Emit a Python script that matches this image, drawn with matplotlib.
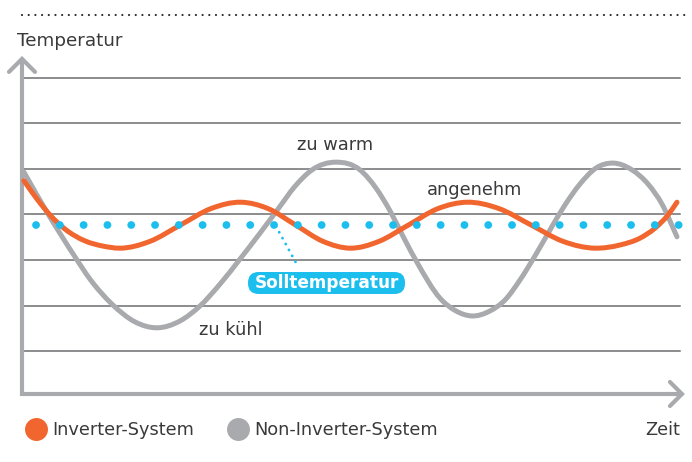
import numpy as np
import matplotlib
matplotlib.use("Agg")
import matplotlib.pyplot as plt
from matplotlib.lines import Line2D
from matplotlib.patches import PathPatch, FancyBboxPatch
from matplotlib.path import Path

# --- data (time in % of the shown span, temperature in grid steps) ---
time_non_inverter = [0.30, 3.80, 8.05, 10.33, 13.68, 17.17, 20.52, 24.01, 27.05, 30.09,
                     33.13, 36.17, 38.91, 41.49, 44.07, 47.72, 51.37, 53.80, 55.93, 58.05,
                     60.18, 63.53, 65.96, 68.39, 71.12, 73.40, 75.68, 77.96, 80.24, 82.52,
                     84.80, 87.23, 89.82, 92.71, 95.14, 97.26, 99.54]
temp_non_inverter = [4.93, 4.05, 3.07, 2.58, 2.03, 1.64, 1.51, 1.66, 1.99, 2.47,
                     3.02, 3.59, 4.12, 4.62, 4.98, 5.15, 4.98, 4.58, 4.08, 3.48,
                     2.91, 2.16, 1.88, 1.77, 1.88, 2.12, 2.56, 3.09, 3.66, 4.21,
                     4.67, 5.02, 5.13, 4.98, 4.67, 4.23, 3.51]

time_inverter = [0.30, 2.28, 4.26, 6.53, 9.57, 12.16, 14.89, 19.45, 24.09, 28.72,
                 33.28, 37.39, 41.57, 45.74, 49.85, 54.26, 58.74, 63.22, 67.63, 72.49,
                 77.36, 82.22, 87.08, 90.88, 93.92, 96.20, 98.18, 99.54]
temp_inverter = [4.74, 4.34, 3.99, 3.68, 3.42, 3.31, 3.26, 3.41, 3.77, 4.13,
                 4.27, 4.13, 3.77, 3.41, 3.26, 3.41, 3.77, 4.13, 4.27, 4.13,
                 3.77, 3.41, 3.26, 3.33, 3.48, 3.70, 3.99, 4.27]

setpoint = 3.77
setpoint_span = [2.13, 100.0]
grid_levels = [1, 2, 3, 4, 5, 6, 7]

labels_series = ["Inverter-System", "Non-Inverter-System"]
annotations = [("zu warm", 47.6, 5.53), ("angenehm", 68.8, 4.54), ("zu kühl", 31.8, 1.46)]

ORANGE = "#F1652E"
GRAY = "#A9AAAD"
CYAN = "#1CBEEE"
GRID = "#6E6E70"
TEXT = "#3A3A3C"
FS = 12.8

# pixel scale of the data units (figure is 692x462 at dpi 100)
PX_T = 6.58
PX_Y = 45.5


def smooth_path(xs, ys):
    """Smooth cubic (Hermite) curve through the points, as a Bezier path."""
    x = np.asarray(xs, float)
    y = np.asarray(ys, float)
    h = np.diff(x)
    d = np.diff(y) / h
    m = np.empty_like(y)
    m[0], m[-1] = d[0], d[-1]
    m[1:-1] = (d[:-1] * h[1:] + d[1:] * h[:-1]) / (h[:-1] + h[1:])
    verts = [(x[0], y[0])]
    codes = [Path.MOVETO]
    for i in range(len(h)):
        verts += [(x[i] + h[i] / 3, y[i] + m[i] * h[i] / 3),
                  (x[i + 1] - h[i] / 3, y[i + 1] - m[i + 1] * h[i] / 3),
                  (x[i + 1], y[i + 1])]
        codes += [Path.CURVE4] * 3
    return Path(verts, codes)


fig = plt.figure(figsize=(6.92, 4.62), dpi=100)
ax = fig.add_axes([0, 0, 1, 1])
ax.set_xlim(-22 / PX_T, 670 / PX_T)
ax.set_ylim(-65.5 / PX_Y, 396.5 / PX_Y)
ax.axis("off")

# dotted rule at the top
ax.plot([0, 100.9], [8.385, 8.385], color="#2E2E30", lw=1.6,
        linestyle=(0, (0.01, 3.0)), dash_capstyle="round")

# grid lines
for g in grid_levels:
    ax.plot([0, 100], [g, g], color=GRID, lw=1.1, zorder=1)

# axes with open arrow heads
axis_y = 0.055
top = 7.42
right = 100.3
ax.plot([0, 0, right], [top, axis_y, axis_y], color=GRAY, lw=3.0,
        solid_joinstyle="miter", solid_capstyle="butt", zorder=2)
ax.plot([-13 / PX_T, 0, 13 / PX_T], [top - 13 / PX_Y, top, top - 13 / PX_Y],
        color=GRAY, lw=3.0, solid_capstyle="round", solid_joinstyle="miter", zorder=2)
ax.plot([right - 12 / PX_T, right, right - 12 / PX_T],
        [axis_y + 12 / PX_Y, axis_y, axis_y - 12 / PX_Y],
        color=GRAY, lw=3.0, solid_capstyle="round", solid_joinstyle="miter", zorder=2)

# curves
ax.add_patch(PathPatch(smooth_path(time_non_inverter, temp_non_inverter), fill=False,
                       edgecolor=GRAY, lw=3.6, capstyle="round", zorder=3))
ax.add_patch(PathPatch(smooth_path(time_inverter, temp_inverter), fill=False,
                       edgecolor=ORANGE, lw=3.6, capstyle="round", zorder=4))

# set point
ax.plot(setpoint_span, [setpoint, setpoint], color=CYAN, lw=5.6,
        linestyle=(0, (0.01, 3.05)), dash_capstyle="round", zorder=5)
ax.plot([38.6, 41.9], [setpoint - 0.03, 2.87], color=CYAN, lw=2.1,
        linestyle=(0, (0.01, 2.3)), dash_capstyle="round", zorder=5)
ax.add_patch(FancyBboxPatch((34.35, 2.253), 23.86, 0.483,
                            boxstyle="round,pad=0,rounding_size=1.6",
                            mutation_aspect=PX_T / PX_Y, fc=CYAN, ec="none", zorder=6))
ax.text(46.28, 2.49, "Solltemperatur", color="white", fontsize=12.2, fontweight="bold",
        ha="center", va="center", zorder=7)

for txt, t, v in annotations:
    ax.text(t, v, txt, color=TEXT, fontsize=FS, ha="center", va="center")

ax.text(-5 / PX_T, 7.81, "Temperatur", color=TEXT, fontsize=FS + 0.4, ha="left", va="center")
ax.text(100, -0.74, "Zeit", color=TEXT, fontsize=FS, ha="right", va="center")

handles = [Line2D([], [], lw=0, marker="o", markersize=15.5, color=c) for c in (ORANGE, GRAY)]
fig.legend(handles, labels_series, loc="center left", bbox_to_anchor=(27 / 692, 1 - 430 / 462),
           ncol=2, frameon=False, fontsize=FS, handlelength=1.0, handletextpad=0.4,
           columnspacing=2.0, borderpad=0, borderaxespad=0, labelcolor=TEXT)

fig.savefig("out.png", dpi=100)
plt.close(fig)
